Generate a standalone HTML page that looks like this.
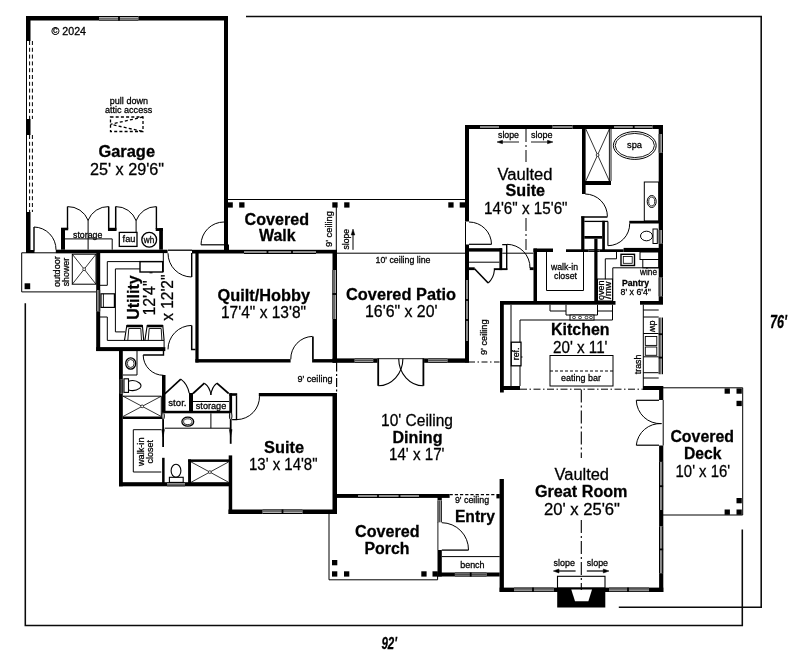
<!DOCTYPE html>
<html><head><meta charset="utf-8"><title>Floor Plan</title>
<style>
html,body{margin:0;padding:0;background:#fff;}
svg{display:block;filter:blur(0.3px);}
text{font-family:"Liberation Sans",sans-serif;fill:#000;stroke:#000;stroke-width:0.28px;}
</style></head><body>
<svg width="800" height="663" viewBox="0 0 800 663">
<rect width="800" height="663" fill="#fff"/>
<path d="M246 16.4 L761.2 16.4 L761.2 607.3 L618.8 607.3" stroke="#0a0a0a" stroke-width="1.55" fill="none"/>
<path d="M25.3 303.2 L25.3 625.4 L742.3 625.4 L742.3 529.5" stroke="#0a0a0a" stroke-width="1.55" fill="none"/>
<rect x="26" y="16" width="202" height="4.5" fill="#000"/>
<rect x="99" y="16.0" width="39.4" height="4.6" fill="#d2d2d2"/>
<path d="M99 16.5 L138.4 16.5 M99 20.1 L138.4 20.1" stroke="#000" stroke-width="1" fill="none"/>
<path d="M99 18.3 L138.4 18.3" stroke="#4a4a4a" stroke-width="1.1" fill="none"/>
<rect x="118.1" y="16.0" width="1.8" height="4.6" fill="#000"/>
<rect x="26" y="16" width="4.5" height="25" fill="#000"/>
<rect x="26" y="119" width="4.5" height="16" fill="#000"/>
<rect x="26" y="212" width="4.5" height="41" fill="#000"/>
<path d="M26.5 41 L26.5 119" stroke="#000" stroke-width="1" fill="none"/>
<path d="M29.6 41 L29.6 119" stroke="#000" stroke-width="1" fill="none" stroke-dasharray="4 2.8"/>
<path d="M32.4 41 L32.4 119" stroke="#000" stroke-width="1" fill="none" stroke-dasharray="4 2.8"/>
<path d="M26.5 135 L26.5 212" stroke="#000" stroke-width="1" fill="none"/>
<path d="M29.6 135 L29.6 212" stroke="#000" stroke-width="1" fill="none" stroke-dasharray="4 2.8"/>
<path d="M32.4 135 L32.4 212" stroke="#000" stroke-width="1" fill="none" stroke-dasharray="4 2.8"/>
<rect x="224" y="16" width="4" height="237" fill="#000"/>
<rect x="26" y="250" width="8.5" height="3" fill="#000"/>
<rect x="55.8" y="249.7" width="111.8" height="3.4" fill="#000"/>
<path d="M168 250.2 L192 250.2" stroke="#000" stroke-width="1.3" fill="none"/>
<path d="M34 227 L34 250.5" stroke="#000" stroke-width="1.4" fill="none"/>
<path d="M34 227 A22.5 22.5 0 0 1 56 249.8" stroke="#000" stroke-width="1" fill="none"/>
<rect x="61" y="228" width="4" height="21.7" fill="#000"/>
<rect x="159.2" y="228.1" width="3.7" height="21.6" fill="#000"/>
<path d="M67.5 206.6 L67.5 229" stroke="#000" stroke-width="1.4" fill="none"/>
<rect x="61" y="227.7" width="7.2" height="2.6" fill="#000"/>
<path d="M156.4 206.6 L156.4 229" stroke="#000" stroke-width="1.4" fill="none"/>
<rect x="155.7" y="228.1" width="7.2" height="2.9" fill="#000"/>
<path d="M108.7 206.6 L108.7 229.8 L115.7 229.8 L115.7 206.6" stroke="#000" stroke-width="1.5" fill="none"/>
<rect x="108" y="227.8" width="8.4" height="3.2" fill="#000"/>
<path d="M67.5 206.6 A21.6 21.6 0 0 1 88.1 220.3" stroke="#000" stroke-width="1" fill="none"/>
<path d="M108.7 206.6 A21.6 21.6 0 0 0 88.1 220.3" stroke="#000" stroke-width="1" fill="none"/>
<path d="M115.7 206.6 A21.4 21.4 0 0 1 136.1 220.7" stroke="#000" stroke-width="1" fill="none"/>
<path d="M156.4 206.6 A21.4 21.4 0 0 0 136.1 220.7" stroke="#000" stroke-width="1" fill="none"/>
<path d="M88.1 220 L88.1 249.7" stroke="#000" stroke-width="1" fill="none"/>
<path d="M136.1 220.5 L136.1 232.3" stroke="#000" stroke-width="1" fill="none"/>
<path d="M65 238.9 L112.2 238.9 L112.2 249.7" stroke="#000" stroke-width="1" fill="none"/>
<text x="73" y="237.5" font-size="9.2" stroke-width="0.42" textLength="29.3" lengthAdjust="spacingAndGlyphs">storage</text>
<rect x="119.3" y="232.4" width="17.7" height="14.0" fill="none" stroke="#000" stroke-width="1.3"/>
<text x="122.6" y="242.3" font-size="9.6" stroke-width="0.42" textLength="12.8" lengthAdjust="spacingAndGlyphs">fau</text>
<ellipse cx="149.2" cy="239.8" rx="7.4" ry="7.4" fill="none" stroke="#000" stroke-width="1.3"/>
<text x="143.8" y="242.5" font-size="9.4" stroke-width="0.42" textLength="10.4" lengthAdjust="spacingAndGlyphs">wh</text>
<rect x="110.5" y="117" width="32.5" height="14.5" fill="none" stroke="#000" stroke-width="1.3" stroke-dasharray="3 2.2"/>
<path d="M143 117 L110.5 124.3 L143 131.5" stroke="#000" stroke-width="1.3" fill="none" stroke-dasharray="3 2.2"/>
<text x="109.8" y="104" font-size="9.3" stroke-width="0.42" textLength="38.2" lengthAdjust="spacingAndGlyphs">pull down</text>
<text x="105" y="112.5" font-size="9.3" stroke-width="0.42" textLength="47.2" lengthAdjust="spacingAndGlyphs">attic access</text>
<text x="51.5" y="35" font-size="10" stroke-width="0.42" textLength="34.5" lengthAdjust="spacingAndGlyphs">© 2024</text>
<text x="98.5" y="156.5" font-size="16" font-weight="bold" textLength="56.5" lengthAdjust="spacingAndGlyphs">Garage</text>
<text x="90" y="175" font-size="16" textLength="74" lengthAdjust="spacingAndGlyphs">25' x 29'6"</text>
<path d="M96 252.8 L21.7 252.8 L21.7 291.9 L96 291.9" stroke="#000" stroke-width="1" fill="none"/>
<rect x="72.3" y="254.2" width="23.7" height="30.0" fill="none" stroke="#000" stroke-width="1"/>
<path d="M72.3 254.2 L96 284.2" stroke="#000" stroke-width="0.8" fill="none"/>
<path d="M96 254.2 L72.3 284.2" stroke="#000" stroke-width="0.8" fill="none"/>
<ellipse cx="84.15" cy="269.2" rx="1.4" ry="1.4" fill="#fff" stroke="#000" stroke-width="0.7"/>
<rect x="24.6" y="283.3" width="5.6" height="5.9" fill="#000"/>
<text x="60.3" y="287" font-size="9.2" stroke-width="0.42" textLength="30.8" lengthAdjust="spacingAndGlyphs" transform="rotate(-90 60.3 287)">outdoor</text>
<text x="69.3" y="286.3" font-size="9.2" stroke-width="0.42" textLength="28.5" lengthAdjust="spacingAndGlyphs" transform="rotate(-90 69.3 286.3)">shower</text>
<rect x="96.2" y="253" width="4.0" height="98" fill="#000"/>
<rect x="96.2" y="290" width="4.0" height="21.3" fill="#d2d2d2"/>
<path d="M96.7 290 L96.7 311.3 M99.69999999999999 290 L99.69999999999999 311.3" stroke="#000" stroke-width="1" fill="none"/>
<path d="M98.19999999999999 290 L98.19999999999999 311.3" stroke="#4a4a4a" stroke-width="1.1" fill="none"/>
<rect x="96.2" y="347.1" width="69.1" height="4.0" fill="#000"/>
<path d="M163.3 253 L163.3 272" stroke="#000" stroke-width="1" fill="none"/>
<path d="M164.1 340.4 L164.1 347.2" stroke="#000" stroke-width="1" fill="none"/>
<path d="M168 253.2 A23.8 23.8 0 0 0 191.5 277" stroke="#000" stroke-width="1" fill="none"/>
<path d="M191.7 253 L191.7 277" stroke="#000" stroke-width="1.4" fill="none"/>
<path d="M168 349.4 A24 24 0 0 1 191.7 325.4" stroke="#000" stroke-width="1" fill="none"/>
<path d="M191.7 325.4 L191.7 349.6 L195.5 349.6" stroke="#000" stroke-width="1.5" fill="none"/>
<path d="M163.3 261.6 L107.3 261.6 L107.3 285.3 L100 285.3" stroke="#000" stroke-width="1" fill="none"/>
<path d="M140 268.9 L115.4 268.9 L115.4 331.9 L125 331.9" stroke="#000" stroke-width="1" fill="none"/>
<rect x="140" y="261.6" width="22.7" height="10.4" fill="none" stroke="#000" stroke-width="1.4"/>
<path d="M149.5 272.8 L152.5 272.8" stroke="#000" stroke-width="1" fill="none"/>
<rect x="101" y="293.8" width="13.4" height="13.6" fill="none" stroke="#000" stroke-width="1.2"/>
<path d="M103.4 293.8 L103.4 307.4" stroke="#000" stroke-width="0.9" fill="none"/>
<path d="M100 317 L107.3 317 L107.3 340.4 L164.1 340.4" stroke="#000" stroke-width="1" fill="none"/>
<path d="M124.5 340.4 L126.8 325.5 L142.39999999999998 325.5 L143.7 340.4" stroke="#000" stroke-width="1.1" fill="none"/>
<path d="M127.8 340.4 L128.8 328.5 L140.79999999999998 328.5 L141.5 340.4" stroke="#000" stroke-width="0.9" fill="none"/>
<path d="M126.8 326 L142.39999999999998 326" stroke="#000" stroke-width="2.6" fill="none"/>
<path d="M144.9 340.4 L147.20000000000002 325.5 L162.79999999999998 325.5 L164.1 340.4" stroke="#000" stroke-width="1.1" fill="none"/>
<path d="M148.20000000000002 340.4 L149.20000000000002 328.5 L161.2 328.5 L161.9 340.4" stroke="#000" stroke-width="0.9" fill="none"/>
<path d="M147.20000000000002 326 L162.79999999999998 326" stroke="#000" stroke-width="2.6" fill="none"/>
<text x="138.8" y="319.8" font-size="16" font-weight="bold" textLength="44.5" lengthAdjust="spacingAndGlyphs" transform="rotate(-90 138.8 319.8)">Utility</text>
<text x="155.3" y="315.6" font-size="16" textLength="35.2" lengthAdjust="spacingAndGlyphs" transform="rotate(-90 155.3 315.6)">12'4"</text>
<text x="173.4" y="320.8" font-size="16" textLength="46.2" lengthAdjust="spacingAndGlyphs" transform="rotate(-90 173.4 320.8)">x 12'2"</text>
<rect x="119" y="351" width="3.8" height="135.3" fill="#000"/>
<rect x="119" y="482.2" width="113" height="4.1" fill="#000"/>
<rect x="167" y="482.2" width="18" height="4.1" fill="#d2d2d2"/>
<path d="M167 482.7 L185 482.7 M167 485.8 L185 485.8" stroke="#000" stroke-width="1" fill="none"/>
<path d="M167 484.25 L185 484.25" stroke="#4a4a4a" stroke-width="1.1" fill="none"/>
<rect x="162" y="375" width="3.5" height="38" fill="#000"/>
<path d="M143.2 355 L163.5 355 L163.5 351" stroke="#000" stroke-width="1.4" fill="none"/>
<path d="M143.2 355 A20.3 20.3 0 0 0 163.5 375.3" stroke="#000" stroke-width="1" fill="none"/>
<path d="M137 350.5 L137 375 L123 375" stroke="#000" stroke-width="1" fill="none"/>
<ellipse cx="130.7" cy="363.5" rx="5" ry="5.6" fill="none" stroke="#000" stroke-width="1.3"/>
<ellipse cx="130.7" cy="363.5" rx="3.4" ry="4" fill="none" stroke="#000" stroke-width="0.8"/>
<rect x="119.80000000000001" y="379.4" width="3.4" height="14.1" fill="#d2d2d2"/>
<path d="M120.30000000000001 379.4 L120.30000000000001 393.5 M122.69999999999999 379.4 L122.69999999999999 393.5" stroke="#000" stroke-width="1" fill="none"/>
<path d="M121.5 379.4 L121.5 393.5" stroke="#4a4a4a" stroke-width="1.1" fill="none"/>
<rect x="124" y="378.8" width="4.5" height="13.6" fill="none" stroke="#000" stroke-width="1.1"/>
<path d="M128.5 381.2 Q135 379.3 139.5 383 Q142.5 385.6 139.5 388.4 Q135 391.8 128.5 390" stroke="#000" stroke-width="1.1" fill="none"/>
<path d="M123 396.2 L161.3 396.2 L161.3 416.5" stroke="#000" stroke-width="1" fill="none"/>
<path d="M123 396.2 L161.3 416.5" stroke="#000" stroke-width="0.8" fill="none"/>
<path d="M161.3 396.2 L123 416.5" stroke="#000" stroke-width="0.8" fill="none"/>
<ellipse cx="142.15" cy="406.35" rx="1.4" ry="1.4" fill="#fff" stroke="#000" stroke-width="0.7"/>
<rect x="122.8" y="416.5" width="40.2" height="2.5" fill="#000"/>
<path d="M161.3 429.7 L133.3 429.7 L133.3 472 L161.3 472" stroke="#000" stroke-width="1" fill="none"/>
<text x="144.2" y="466" font-size="9.2" stroke-width="0.42" textLength="28.5" lengthAdjust="spacingAndGlyphs" transform="rotate(-90 144.2 466)">walk-in</text>
<text x="153.2" y="463.5" font-size="9.2" stroke-width="0.42" textLength="23.5" lengthAdjust="spacingAndGlyphs" transform="rotate(-90 153.2 463.5)">closet</text>
<path d="M163.1 413 L163.1 446.9" stroke="#000" stroke-width="1.8" fill="none"/>
<ellipse cx="163.1" cy="416" rx="1.3" ry="3.6" fill="#ccc" stroke="#000" stroke-width="0.9"/>
<path d="M161.7 429.5 L164.5 429.5 L163.1 437 Z" stroke="#000" stroke-width="0.4" fill="#000"/>
<rect x="162.1" y="457.8" width="2.5" height="25.2" fill="#000"/>
<rect x="189" y="393" width="4" height="18" fill="#000"/>
<path d="M164.8 393.8 L180.8 379.1" stroke="#000" stroke-width="1.6" fill="none"/>
<path d="M180.8 379.1 Q187.5 384 189.2 393.2" stroke="#000" stroke-width="1.1" fill="none"/>
<text x="168.3" y="406" font-size="9.4" stroke-width="0.42" textLength="18.2" lengthAdjust="spacingAndGlyphs">stor.</text>
<rect x="164.6" y="410.8" width="65.8" height="2.5" fill="#000"/>
<path d="M193 393.5 L204.4 383.2" stroke="#000" stroke-width="1.7" fill="none"/>
<path d="M204.4 383.2 Q210 387 210.9 395" stroke="#000" stroke-width="1.1" fill="none"/>
<path d="M228.7 393.5 L216.8 383.2" stroke="#000" stroke-width="1.7" fill="none"/>
<path d="M216.8 383.2 Q211.8 387 210.9 395" stroke="#000" stroke-width="1.1" fill="none"/>
<path d="M193 401.5 L229 401.5" stroke="#000" stroke-width="1" fill="none"/>
<text x="195.8" y="408.6" font-size="9.4" stroke-width="0.42" textLength="30.5" lengthAdjust="spacingAndGlyphs">storage</text>
<rect x="229.3" y="393.2" width="7.9" height="2.6" fill="#000"/>
<rect x="229.3" y="393.2" width="2.8" height="20.3" fill="#000"/>
<path d="M236.5 395.8 L236.5 419.6 L232.1 419.6" stroke="#000" stroke-width="1.4" fill="none"/>
<path d="M230.7 413 L230.7 443.8" stroke="#000" stroke-width="1.8" fill="none"/>
<ellipse cx="230.7" cy="416" rx="1.3" ry="3.6" fill="#ccc" stroke="#000" stroke-width="0.9"/>
<path d="M229.3 429.5 L232.1 429.5 L230.7 437 Z" stroke="#000" stroke-width="0.4" fill="#000"/>
<path d="M164.6 428.2 L230.4 428.2" stroke="#000" stroke-width="1" fill="none"/>
<path d="M210.9 413.3 L210.9 428.2" stroke="#000" stroke-width="1" fill="none"/>
<ellipse cx="187.8" cy="421.7" rx="5.9" ry="4.5" fill="none" stroke="#000" stroke-width="1.3"/>
<ellipse cx="187.8" cy="421.7" rx="4.2" ry="2.9" fill="none" stroke="#000" stroke-width="0.8"/>
<ellipse cx="176" cy="470.8" rx="4.9" ry="6.5" fill="none" stroke="#000" stroke-width="1.1"/>
<rect x="169.4" y="477.3" width="13.8" height="5.1" fill="none" stroke="#000" stroke-width="1.1"/>
<rect x="188.1" y="459.4" width="40.9" height="2.5" fill="#000"/>
<rect x="188.1" y="459.4" width="2.9" height="23.6" fill="#000"/>
<path d="M191 461.9 L228.7 482.3" stroke="#000" stroke-width="0.8" fill="none"/>
<path d="M228.7 461.9 L191 482.3" stroke="#000" stroke-width="0.8" fill="none"/>
<ellipse cx="209.85" cy="472.1" rx="1.4" ry="1.4" fill="#fff" stroke="#000" stroke-width="0.7"/>
<rect x="228.7" y="455.4" width="3.5" height="58.6" fill="#000"/>
<rect x="228.5" y="509.5" width="108.5" height="4.5" fill="#000"/>
<rect x="262.5" y="509.5" width="40.0" height="4.5" fill="#d2d2d2"/>
<path d="M262.5 510.0 L302.5 510.0 M262.5 513.5 L302.5 513.5" stroke="#000" stroke-width="1" fill="none"/>
<path d="M262.5 511.75 L302.5 511.75" stroke="#4a4a4a" stroke-width="1.1" fill="none"/>
<rect x="281.6" y="509.5" width="1.8" height="4.5" fill="#000"/>
<rect x="332.5" y="393" width="4.5" height="121" fill="#000"/>
<rect x="258.8" y="393" width="78.2" height="3.3" fill="#000"/>
<path d="M237 419.6 A23 23 0 0 0 259.5 396.2" stroke="#000" stroke-width="1" fill="none"/>
<text x="264" y="452.5" font-size="16" font-weight="bold" textLength="40" lengthAdjust="spacingAndGlyphs">Suite</text>
<text x="249" y="469.5" font-size="16" textLength="68.5" lengthAdjust="spacingAndGlyphs">13' x 14'8"</text>
<rect x="192" y="249.8" width="145" height="3.7" fill="#000"/>
<rect x="244" y="250.0" width="72" height="4.0" fill="#d2d2d2"/>
<path d="M244 250.5 L316 250.5 M244 253.5 L316 253.5" stroke="#000" stroke-width="1" fill="none"/>
<path d="M244 252.0 L316 252.0" stroke="#4a4a4a" stroke-width="1.1" fill="none"/>
<rect x="266.6" y="250.0" width="1.8" height="4.0" fill="#000"/>
<rect x="291.1" y="250.0" width="1.8" height="4.0" fill="#000"/>
<rect x="195.4" y="250" width="3.2" height="112.5" fill="#000"/>
<rect x="332.5" y="250" width="4.5" height="112.5" fill="#000"/>
<rect x="332.5" y="270" width="4.5" height="49" fill="#d2d2d2"/>
<path d="M333.0 270 L333.0 319 M336.5 270 L336.5 319" stroke="#000" stroke-width="1" fill="none"/>
<path d="M334.75 270 L334.75 319" stroke="#4a4a4a" stroke-width="1.1" fill="none"/>
<rect x="332.5" y="293.1" width="4.5" height="1.8" fill="#000"/>
<rect x="195.4" y="359.1" width="95.2" height="3.4" fill="#000"/>
<rect x="312.1" y="359.1" width="24.9" height="3.4" fill="#000"/>
<path d="M312.9 336.4 L312.9 359.3" stroke="#000" stroke-width="1.7" fill="none"/>
<path d="M312.5 336.4 A22.3 22.3 0 0 0 290.8 359.3" stroke="#000" stroke-width="1" fill="none"/>
<text x="217.5" y="301" font-size="16" font-weight="bold" textLength="92.5" lengthAdjust="spacingAndGlyphs">Quilt/Hobby</text>
<text x="221" y="318" font-size="16" textLength="85" lengthAdjust="spacingAndGlyphs">17'4" x 13'8"</text>
<text x="297.5" y="382.3" font-size="9" stroke-width="0.42" textLength="35" lengthAdjust="spacingAndGlyphs">9' ceiling</text>
<path d="M336.6 362.5 L336.6 393" stroke="#000" stroke-width="1.2" fill="none" stroke-dasharray="9 2.5 2 2"/>
<path d="M228 199.5 L465 199.5" stroke="#000" stroke-width="1" fill="none"/>
<rect x="227.5" y="202.3" width="5.3" height="5.3" fill="#000"/>
<rect x="239.2" y="202.3" width="5.3" height="5.3" fill="#000"/>
<rect x="332.3" y="202.3" width="5.3" height="5.3" fill="#000"/>
<rect x="344.2" y="202.3" width="5.3" height="5.3" fill="#000"/>
<rect x="448.3" y="202.3" width="5.3" height="5.3" fill="#000"/>
<rect x="459.7" y="202.3" width="5.3" height="5.3" fill="#000"/>
<path d="M336.3 207 L336.3 250" stroke="#000" stroke-width="1" fill="none"/>
<rect x="224" y="244.5" width="5" height="8.5" fill="#000"/>
<path d="M201 244.8 L224 244.8" stroke="#000" stroke-width="1.2" fill="none"/>
<path d="M201 244.8 A23 23 0 0 1 224 222" stroke="#000" stroke-width="1" fill="none"/>
<text x="244.5" y="224.5" font-size="16" font-weight="bold" textLength="64.5" lengthAdjust="spacingAndGlyphs">Covered</text>
<text x="259" y="241" font-size="16" font-weight="bold" textLength="36.5" lengthAdjust="spacingAndGlyphs">Walk</text>
<text x="331.5" y="247" font-size="9" stroke-width="0.42" textLength="36" lengthAdjust="spacingAndGlyphs" transform="rotate(-90 331.5 247)">9' ceiling</text>
<text x="348.5" y="249.5" font-size="9" stroke-width="0.42" textLength="20.5" lengthAdjust="spacingAndGlyphs" transform="rotate(-90 348.5 249.5)">slope</text>
<path d="M353 249.8 L353 233" stroke="#000" stroke-width="1" fill="none"/>
<path d="M353 229 L351.2 235 L354.8 235 Z" stroke="#000" stroke-width="0.5" fill="#000"/>
<path d="M337 253.2 L465 253.2" stroke="#000" stroke-width="1" fill="none"/>
<text x="375.5" y="263" font-size="9" stroke-width="0.42" textLength="55" lengthAdjust="spacingAndGlyphs">10' ceiling line</text>
<text x="346" y="300" font-size="16" font-weight="bold" textLength="110" lengthAdjust="spacingAndGlyphs">Covered Patio</text>
<text x="365" y="317" font-size="16" textLength="72.5" lengthAdjust="spacingAndGlyphs">16'6" x 20'</text>
<rect x="332.5" y="358.4" width="136.5" height="4.4" fill="#000"/>
<rect x="354.6" y="358.4" width="18.6" height="4.4" fill="#d2d2d2"/>
<path d="M354.6 358.9 L373.2 358.9 M354.6 362.3 L373.2 362.3" stroke="#000" stroke-width="1" fill="none"/>
<path d="M354.6 360.6 L373.2 360.6" stroke="#4a4a4a" stroke-width="1.1" fill="none"/>
<rect x="428.2" y="358.4" width="19.3" height="4.4" fill="#d2d2d2"/>
<path d="M428.2 358.9 L447.5 358.9 M428.2 362.3 L447.5 362.3" stroke="#000" stroke-width="1" fill="none"/>
<path d="M428.2 360.6 L447.5 360.6" stroke="#4a4a4a" stroke-width="1.1" fill="none"/>
<rect x="377.4" y="358" width="46.7" height="5.2" fill="#fff"/>
<path d="M377.3 358.7 L424.1 358.7" stroke="#000" stroke-width="0.9" fill="none"/>
<path d="M378.2 358.5 L378.2 385.8" stroke="#000" stroke-width="1.8" fill="none"/>
<path d="M423.4 358.5 L423.4 385.8" stroke="#000" stroke-width="1.8" fill="none"/>
<path d="M378.2 385.8 A25 27.3 0 0 0 402.9 358.7" stroke="#000" stroke-width="1.1" fill="none"/>
<path d="M423.4 385.8 A25 27.3 0 0 1 398.7 358.7" stroke="#000" stroke-width="1.1" fill="none"/>
<rect x="465" y="244.5" width="4" height="118.0" fill="#000"/>
<rect x="465.0" y="280" width="4.0" height="61" fill="#d2d2d2"/>
<path d="M465.5 280 L465.5 341 M468.5 280 L468.5 341" stroke="#000" stroke-width="1" fill="none"/>
<path d="M467.0 280 L467.0 341" stroke="#4a4a4a" stroke-width="1.1" fill="none"/>
<rect x="465.0" y="299.1" width="4.0" height="1.8" fill="#000"/>
<rect x="465.0" y="319.1" width="4.0" height="1.8" fill="#000"/>
<path d="M469 362 L499.5 362" stroke="#000" stroke-width="1" fill="none" stroke-dasharray="6 2.5 1.5 2.5"/>
<text x="487" y="355" font-size="9" stroke-width="0.42" textLength="35.5" lengthAdjust="spacingAndGlyphs" transform="rotate(-90 487 355)">9' ceiling</text>
<text x="381" y="426" font-size="16" textLength="72" lengthAdjust="spacingAndGlyphs">10' Ceiling</text>
<text x="392.5" y="443" font-size="16" font-weight="bold" textLength="50" lengthAdjust="spacingAndGlyphs">Dining</text>
<text x="389" y="460" font-size="16" textLength="55.5" lengthAdjust="spacingAndGlyphs">14' x 17'</text>
<rect x="337" y="494" width="112.6" height="3.9" fill="#000"/>
<rect x="358" y="494.0" width="61" height="4.0" fill="#d2d2d2"/>
<path d="M358 494.5 L419 494.5 M358 497.5 L419 497.5" stroke="#000" stroke-width="1" fill="none"/>
<path d="M358 496.0 L419 496.0" stroke="#4a4a4a" stroke-width="1.1" fill="none"/>
<rect x="377.1" y="494.0" width="1.8" height="4.0" fill="#000"/>
<rect x="398.6" y="494.0" width="1.8" height="4.0" fill="#000"/>
<path d="M329 514 L329 579.8 L437.6 579.8 L437.6 576" stroke="#000" stroke-width="1" fill="none"/>
<rect x="332" y="560" width="5.3" height="5.3" fill="#000"/>
<rect x="332" y="571.3" width="5.3" height="5.3" fill="#000"/>
<rect x="344" y="571.3" width="5.3" height="5.3" fill="#000"/>
<rect x="421.3" y="571.3" width="5.3" height="5.3" fill="#000"/>
<rect x="432.5" y="571.3" width="5.3" height="5.3" fill="#000"/>
<text x="355" y="537" font-size="16" font-weight="bold" textLength="64.5" lengthAdjust="spacingAndGlyphs">Covered</text>
<text x="364.5" y="554" font-size="16" font-weight="bold" textLength="45" lengthAdjust="spacingAndGlyphs">Porch</text>
<rect x="437.5" y="494" width="4.3" height="6.5" fill="#000"/>
<rect x="437.5" y="500.5" width="4.3" height="21.8" fill="#d2d2d2"/>
<path d="M438.0 500.5 L438.0 522.3 M441.3 500.5 L441.3 522.3" stroke="#000" stroke-width="1" fill="none"/>
<path d="M439.65 500.5 L439.65 522.3" stroke="#4a4a4a" stroke-width="1.1" fill="none"/>
<path d="M437.9 522 L437.9 550" stroke="#000" stroke-width="0.9" fill="none"/>
<rect x="437.5" y="550" width="4.3" height="26.5" fill="#000"/>
<path d="M441.8 550.1 L468.5 550.1" stroke="#000" stroke-width="1.3" fill="none"/>
<path d="M468.5 550.1 A27 27 0 0 0 441.8 522.7" stroke="#000" stroke-width="1" fill="none"/>
<path d="M449.6 494.6 L496.4 494.6" stroke="#000" stroke-width="1.1" fill="none" stroke-dasharray="3.2 2"/>
<rect x="496.4" y="494" width="3.4" height="4.4" fill="#000"/>
<text x="454.9" y="503.1" font-size="9" stroke-width="0.42" textLength="34.2" lengthAdjust="spacingAndGlyphs">9' ceiling</text>
<text x="454.9" y="522.2" font-size="16" font-weight="bold" textLength="40" lengthAdjust="spacingAndGlyphs">Entry</text>
<path d="M441.8 556.6 L499.7 556.6" stroke="#000" stroke-width="1" fill="none"/>
<text x="460.2" y="567.7" font-size="9" stroke-width="0.42" textLength="24.4" lengthAdjust="spacingAndGlyphs">bench</text>
<rect x="437.5" y="572.5" width="62.2" height="4.0" fill="#000"/>
<rect x="454.9" y="572.5" width="31.7" height="4.0" fill="#d2d2d2"/>
<path d="M454.9 573.0 L486.6 573.0 M454.9 576.0 L486.6 576.0" stroke="#000" stroke-width="1" fill="none"/>
<path d="M454.9 574.5 L486.6 574.5" stroke="#4a4a4a" stroke-width="1.1" fill="none"/>
<rect x="469.8" y="572.5" width="1.8" height="4.0" fill="#000"/>
<rect x="499.6" y="479" width="4.3" height="112.8" fill="#000"/>
<rect x="499.6" y="587.6" width="163.7" height="4.4" fill="#000"/>
<rect x="514" y="587.6" width="39.8" height="4.2" fill="#d2d2d2"/>
<path d="M514 588.1 L553.8 588.1 M514 591.3000000000001 L553.8 591.3000000000001" stroke="#000" stroke-width="1" fill="none"/>
<path d="M514 589.7 L553.8 589.7" stroke="#4a4a4a" stroke-width="1.1" fill="none"/>
<rect x="532.1" y="587.6" width="1.8" height="4.2" fill="#000"/>
<rect x="609" y="587.6" width="40" height="4.2" fill="#d2d2d2"/>
<path d="M609 588.1 L649 588.1 M609 591.3000000000001 L649 591.3000000000001" stroke="#000" stroke-width="1" fill="none"/>
<path d="M609 589.7 L649 589.7" stroke="#4a4a4a" stroke-width="1.1" fill="none"/>
<rect x="627.1" y="587.6" width="1.8" height="4.2" fill="#000"/>
<rect x="659.1" y="386" width="4.2" height="206" fill="#000"/>
<rect x="659.0" y="461.9" width="4.1" height="48.1" fill="#d2d2d2"/>
<path d="M659.5 461.9 L659.5 510 M662.6 461.9 L662.6 510" stroke="#000" stroke-width="1" fill="none"/>
<path d="M661.05 461.9 L661.05 510" stroke="#4a4a4a" stroke-width="1.1" fill="none"/>
<rect x="659.0" y="485.3" width="4.1" height="1.8" fill="#000"/>
<rect x="659.0" y="526.3" width="4.1" height="46.9" fill="#d2d2d2"/>
<path d="M659.5 526.3 L659.5 573.2 M662.6 526.3 L662.6 573.2" stroke="#000" stroke-width="1" fill="none"/>
<path d="M661.05 526.3 L661.05 573.2" stroke="#4a4a4a" stroke-width="1.1" fill="none"/>
<rect x="659.0" y="548.5" width="4.1" height="1.8" fill="#000"/>
<rect x="657.7" y="400" width="6.3" height="45.5" fill="#fff"/>
<path d="M663.2 400 L663.2 445.5" stroke="#000" stroke-width="1" fill="none"/>
<path d="M636.3 400.3 L659 400.3" stroke="#000" stroke-width="1.2" fill="none"/>
<path d="M636.3 445.2 L659 445.2" stroke="#000" stroke-width="1.2" fill="none"/>
<path d="M636.3 400.3 A24 24 0 0 0 661.5 423.6" stroke="#000" stroke-width="1" fill="none"/>
<path d="M636.3 445.2 A24 24 0 0 1 661.5 423.6" stroke="#000" stroke-width="1" fill="none"/>
<rect x="557.5" y="576.3" width="47.5" height="11.7" fill="none" stroke="#000" stroke-width="1.1"/>
<path d="M557.2 588 L605.3 588 L605.3 607.6 L557.2 607.6 Z" stroke="#000" stroke-width="0" fill="#000"/>
<path d="M571.3 589.6 L592 589.6 L588.4 601.2 L575 601.2 Z" stroke="#000" stroke-width="0" fill="#fff"/>
<path d="M581.3 389.5 L581.3 458" stroke="#000" stroke-width="1.1" fill="none" stroke-dasharray="13 3 2 3"/>
<path d="M581.3 520 L581.3 590" stroke="#000" stroke-width="1.1" fill="none" stroke-dasharray="13 3 2 3"/>
<text x="554.5" y="480" font-size="16" textLength="54.5" lengthAdjust="spacingAndGlyphs">Vaulted</text>
<text x="535" y="497" font-size="16" font-weight="bold" textLength="92.5" lengthAdjust="spacingAndGlyphs">Great Room</text>
<text x="544" y="514.5" font-size="16" textLength="76" lengthAdjust="spacingAndGlyphs">20' x 25'6"</text>
<text x="553.5" y="566.2" font-size="9.2" stroke-width="0.42" textLength="21.4" lengthAdjust="spacingAndGlyphs">slope</text>
<text x="586.8" y="566.2" font-size="9.2" stroke-width="0.42" textLength="21.2" lengthAdjust="spacingAndGlyphs">slope</text>
<path d="M557 571 L575.6 571" stroke="#000" stroke-width="1.2" fill="none"/>
<path d="M553.3 571 L559 569 L559 573 Z" stroke="#000" stroke-width="0.5" fill="#000"/>
<path d="M586.8 571 L605 571" stroke="#000" stroke-width="1.2" fill="none"/>
<path d="M609 571 L603.3 569 L603.3 573 Z" stroke="#000" stroke-width="0.5" fill="#000"/>
<path d="M663 387.8 L742.7 387.8 L742.7 515 L663 515" stroke="#000" stroke-width="1" fill="none"/>
<rect x="724.6" y="388.4" width="5.3" height="5.3" fill="#000"/>
<rect x="736.5" y="388.4" width="5.3" height="5.3" fill="#000"/>
<rect x="736.5" y="400.8" width="5.3" height="5.3" fill="#000"/>
<rect x="736.5" y="498" width="5.3" height="5.3" fill="#000"/>
<rect x="724.6" y="509.5" width="5.3" height="5.3" fill="#000"/>
<rect x="736.5" y="509.5" width="5.3" height="5.3" fill="#000"/>
<text x="670.4" y="442" font-size="16" font-weight="bold" textLength="63.6" lengthAdjust="spacingAndGlyphs">Covered</text>
<text x="684" y="459" font-size="16" font-weight="bold" textLength="37.5" lengthAdjust="spacingAndGlyphs">Deck</text>
<text x="675.6" y="477" font-size="16" textLength="54.5" lengthAdjust="spacingAndGlyphs">10' x 16'</text>
<rect x="500" y="301" width="3.8" height="91.5" fill="#000"/>
<rect x="500" y="301" width="115.5" height="3.7" fill="#000"/>
<rect x="640" y="301" width="23" height="3.7" fill="#000"/>
<rect x="500" y="386" width="20" height="4" fill="#000"/>
<rect x="642.8" y="386" width="20.2" height="4" fill="#000"/>
<path d="M520 389.2 L642.8 389.2" stroke="#000" stroke-width="1" fill="none" stroke-dasharray="7 2.5 1.5 2.5"/>
<path d="M511 304.7 L511 386" stroke="#000" stroke-width="1" fill="none"/>
<path d="M612.5 320 L520 320 L520 386" stroke="#000" stroke-width="1" fill="none"/>
<rect x="511.3" y="342.2" width="9.7" height="23.6" fill="#fff" stroke="#000" stroke-width="1.3"/>
<path d="M521 357 L522.5 357" stroke="#000" stroke-width="1" fill="none"/>
<text x="519.2" y="360.3" font-size="8.6" stroke-width="0.42" textLength="12.8" lengthAdjust="spacingAndGlyphs" transform="rotate(-90 519.2 360.3)">ref.</text>
<path d="M550 304.7 L550 311 L566 311" stroke="#000" stroke-width="1" fill="none"/>
<path d="M597.5 311 L612.5 311" stroke="#000" stroke-width="1" fill="none"/>
<path d="M566 304.7 L566 315 L597.5 315 L597.5 304.7" stroke="#000" stroke-width="1" fill="none"/>
<path d="M612.5 304.7 L612.5 320" stroke="#000" stroke-width="1" fill="none"/>
<rect x="570" y="315" width="24" height="5" fill="#fff" stroke="#000" stroke-width="1"/>
<ellipse cx="574" cy="317.5" rx="1.5" ry="1.3" fill="none" stroke="#000" stroke-width="0.7"/>
<ellipse cx="580" cy="317.5" rx="1.5" ry="1.3" fill="none" stroke="#000" stroke-width="0.7"/>
<ellipse cx="586.5" cy="317.5" rx="1.5" ry="1.3" fill="none" stroke="#000" stroke-width="0.7"/>
<ellipse cx="591" cy="317.5" rx="1.5" ry="1.3" fill="none" stroke="#000" stroke-width="0.7"/>
<text x="551" y="335" font-size="16" font-weight="bold" textLength="58.5" lengthAdjust="spacingAndGlyphs">Kitchen</text>
<text x="553" y="352.5" font-size="16" textLength="54.5" lengthAdjust="spacingAndGlyphs">20' x 11'</text>
<rect x="550" y="355.5" width="63" height="30.5" fill="none" stroke="#000" stroke-width="1"/>
<path d="M550 371 L613 371" stroke="#000" stroke-width="1" fill="none" stroke-dasharray="3 2"/>
<text x="561" y="381" font-size="9" stroke-width="0.42" textLength="40" lengthAdjust="spacingAndGlyphs">eating bar</text>
<path d="M643.3 304.7 L643.3 386" stroke="#000" stroke-width="1" fill="none"/>
<path d="M643.3 310 L658.7 310" stroke="#000" stroke-width="1" fill="none"/>
<path d="M643.3 317 L658.7 317" stroke="#000" stroke-width="1" fill="none"/>
<path d="M643.3 333.5 L658.7 333.5" stroke="#000" stroke-width="1" fill="none"/>
<path d="M643.3 356.8 L658.7 356.8" stroke="#000" stroke-width="1" fill="none"/>
<path d="M643.3 372.7 L658.7 372.7" stroke="#000" stroke-width="1" fill="none"/>
<path d="M643.3 378 L658.7 378" stroke="#000" stroke-width="1" fill="none"/>
<text x="649.6" y="320.6" font-size="9" stroke-width="0.42" textLength="11.4" lengthAdjust="spacingAndGlyphs" transform="rotate(90 649.6 320.6)">dw</text>
<rect x="645.3" y="336.5" width="11.5" height="8.9" fill="none" stroke="#000" stroke-width="0.9"/>
<rect x="645.3" y="347" width="11.5" height="8.3" fill="none" stroke="#000" stroke-width="0.9"/>
<text x="641" y="374.2" font-size="9" stroke-width="0.42" textLength="19.6" lengthAdjust="spacingAndGlyphs" transform="rotate(-90 641 374.2)">trash</text>
<rect x="658.6999999999999" y="317.6" width="4.3" height="56.6" fill="#d2d2d2"/>
<path d="M659.1999999999999 317.6 L659.1999999999999 374.2 M662.5 317.6 L662.5 374.2" stroke="#000" stroke-width="1" fill="none"/>
<path d="M660.8499999999999 317.6 L660.8499999999999 374.2" stroke="#4a4a4a" stroke-width="1.1" fill="none"/>
<rect x="658.6999999999999" y="333.3" width="4.3" height="1.8" fill="#000"/>
<rect x="658.6999999999999" y="356.70000000000005" width="4.3" height="1.8" fill="#000"/>
<rect x="465" y="125" width="198" height="4" fill="#000"/>
<rect x="480" y="125.0" width="19" height="4.0" fill="#d2d2d2"/>
<path d="M480 125.5 L499 125.5 M480 128.5 L499 128.5" stroke="#000" stroke-width="1" fill="none"/>
<path d="M480 127.0 L499 127.0" stroke="#4a4a4a" stroke-width="1.1" fill="none"/>
<rect x="552.5" y="125.0" width="20.0" height="4.0" fill="#d2d2d2"/>
<path d="M552.5 125.5 L572.5 125.5 M552.5 128.5 L572.5 128.5" stroke="#000" stroke-width="1" fill="none"/>
<path d="M552.5 127.0 L572.5 127.0" stroke="#4a4a4a" stroke-width="1.1" fill="none"/>
<rect x="614" y="125.0" width="38.5" height="4.0" fill="#d2d2d2"/>
<path d="M614 125.5 L652.5 125.5 M614 128.5 L652.5 128.5" stroke="#000" stroke-width="1" fill="none"/>
<path d="M614 127.0 L652.5 127.0" stroke="#4a4a4a" stroke-width="1.1" fill="none"/>
<rect x="632.8000000000001" y="125.0" width="1.8" height="4.0" fill="#000"/>
<rect x="465" y="125" width="4" height="96.5" fill="#000"/>
<rect x="658.7" y="125" width="4.3" height="179" fill="#000"/>
<rect x="658.6999999999999" y="134" width="4.3" height="18.7" fill="#d2d2d2"/>
<path d="M659.1999999999999 134 L659.1999999999999 152.7 M662.5 134 L662.5 152.7" stroke="#000" stroke-width="1" fill="none"/>
<path d="M660.8499999999999 134 L660.8499999999999 152.7" stroke="#4a4a4a" stroke-width="1.1" fill="none"/>
<rect x="658.6999999999999" y="230" width="4.3" height="13.5" fill="#d2d2d2"/>
<path d="M659.1999999999999 230 L659.1999999999999 243.5 M662.5 230 L662.5 243.5" stroke="#000" stroke-width="1" fill="none"/>
<path d="M660.8499999999999 230 L660.8499999999999 243.5" stroke="#4a4a4a" stroke-width="1.1" fill="none"/>
<rect x="658.6999999999999" y="277.5" width="4.3" height="18.8" fill="#d2d2d2"/>
<path d="M659.1999999999999 277.5 L659.1999999999999 296.3 M662.5 277.5 L662.5 296.3" stroke="#000" stroke-width="1" fill="none"/>
<path d="M660.8499999999999 277.5 L660.8499999999999 296.3" stroke="#4a4a4a" stroke-width="1.1" fill="none"/>
<path d="M526 129 L526 162" stroke="#000" stroke-width="1" fill="none" stroke-dasharray="13 3 2 3"/>
<path d="M526 218 L526 250" stroke="#000" stroke-width="1" fill="none" stroke-dasharray="13 3 2 3"/>
<text x="498" y="137.5" font-size="9" stroke-width="0.42" textLength="21" lengthAdjust="spacingAndGlyphs">slope</text>
<text x="531" y="137.5" font-size="9" stroke-width="0.42" textLength="21.5" lengthAdjust="spacingAndGlyphs">slope</text>
<path d="M501 142 L519 142" stroke="#000" stroke-width="0.9" fill="none"/>
<path d="M497 142 L502.5 140.3 L502.5 143.7 Z" stroke="#000" stroke-width="0.5" fill="#000"/>
<path d="M531 142 L549 142" stroke="#000" stroke-width="0.9" fill="none"/>
<path d="M553 142 L547.5 140.3 L547.5 143.7 Z" stroke="#000" stroke-width="0.5" fill="#000"/>
<text x="497.5" y="179.5" font-size="16" textLength="55" lengthAdjust="spacingAndGlyphs">Vaulted</text>
<text x="505.5" y="196" font-size="16" font-weight="bold" textLength="39.5" lengthAdjust="spacingAndGlyphs">Suite</text>
<text x="484" y="214" font-size="16" textLength="83.5" lengthAdjust="spacingAndGlyphs">14'6" x 15'6"</text>
<path d="M469 244.3 L491.5 244.3" stroke="#000" stroke-width="1.2" fill="none"/>
<path d="M469 222 A22.5 22.5 0 0 1 491.5 244.3" stroke="#000" stroke-width="1" fill="none"/>
<rect x="469" y="248.2" width="33.2" height="3.4" fill="#000"/>
<rect x="499.4" y="248.2" width="2.8" height="21.9" fill="#000"/>
<path d="M469 262.2 L499.4 262.2" stroke="#000" stroke-width="1" fill="none"/>
<rect x="469" y="267.3" width="5.7" height="2.8" fill="#000"/>
<rect x="493.8" y="268.2" width="13.5" height="1.9" fill="#000"/>
<path d="M502.2 244.6 L506.7 244.6 L506.7 270" stroke="#000" stroke-width="1.4" fill="none"/>
<path d="M474.5 268.8 L488.2 283" stroke="#000" stroke-width="1.6" fill="none"/>
<path d="M488.2 283 Q493.8 278 494.4 270" stroke="#000" stroke-width="1.1" fill="none"/>
<path d="M465.5 221.5 L465.5 245" stroke="#000" stroke-width="1" fill="none"/>
<path d="M507 244.3 A23.3 23.3 0 0 1 530 268" stroke="#000" stroke-width="1" fill="none"/>
<rect x="529.8" y="267.3" width="3.9" height="2.8" fill="#000"/>
<path d="M502.2 253.2 L533.4 253.2" stroke="#000" stroke-width="1" fill="none"/>
<rect x="533.5" y="248.5" width="3.5" height="53.5" fill="#000"/>
<rect x="533.5" y="248.5" width="19.5" height="3.5" fill="#000"/>
<rect x="566" y="249.3" width="57.6" height="2.7" fill="#000"/>
<rect x="623.6" y="247.9" width="35.4" height="4.1" fill="#000"/>
<rect x="588.6" y="249.3" width="10.9" height="2.7" fill="#d2d2d2"/>
<path d="M588.6 249.8 L599.5 249.8 M588.6 251.5 L599.5 251.5" stroke="#000" stroke-width="1" fill="none"/>
<path d="M588.6 250.65 L599.5 250.65" stroke="#4a4a4a" stroke-width="1.1" fill="none"/>
<rect x="594.3" y="238.7" width="3.2" height="63.3" fill="#000"/>
<path d="M546.5 252 L546.5 290.5 L583.5 290.5 L583.5 252" stroke="#000" stroke-width="1" fill="none"/>
<text x="551" y="270" font-size="9" stroke-width="0.42" textLength="27" lengthAdjust="spacingAndGlyphs">walk-in</text>
<text x="554" y="279" font-size="9" stroke-width="0.42" textLength="23" lengthAdjust="spacingAndGlyphs">closet</text>
<rect x="582" y="129" width="3.6" height="65" fill="#000"/>
<rect x="582" y="181" width="29" height="4" fill="#000"/>
<path d="M609.4 129 L609.4 181" stroke="#000" stroke-width="0.9" fill="none"/>
<path d="M611 129 L611 181" stroke="#000" stroke-width="0.9" fill="none"/>
<path d="M585.8 129 L609.4 181" stroke="#000" stroke-width="0.8" fill="none"/>
<path d="M609.4 129 L585.8 181" stroke="#000" stroke-width="0.8" fill="none"/>
<ellipse cx="597.5999999999999" cy="155.0" rx="1.4" ry="1.4" fill="#fff" stroke="#000" stroke-width="0.7"/>
<ellipse cx="634.8" cy="145.5" rx="21.4" ry="13.9" fill="none" stroke="#000" stroke-width="1"/>
<ellipse cx="634.8" cy="145.5" rx="19.6" ry="12.1" fill="none" stroke="#000" stroke-width="0.9"/>
<text x="627" y="147.8" font-size="9" stroke-width="0.42" textLength="15" lengthAdjust="spacingAndGlyphs">spa</text>
<path d="M585.2 194 A22.4 22.4 0 0 1 607.4 216.6" stroke="#000" stroke-width="1" fill="none"/>
<path d="M581.2 217 L607.4 217" stroke="#000" stroke-width="1.5" fill="none"/>
<rect x="581.2" y="216.4" width="3.2" height="34.1" fill="#000"/>
<path d="M584.3 221.4 L607.9 221.4" stroke="#000" stroke-width="1.3" fill="none"/>
<rect x="602.2" y="220.8" width="2.7" height="29.2" fill="#000"/>
<path d="M607.9 221.4 L607.9 245.7" stroke="#000" stroke-width="1.1" fill="none"/>
<rect x="584.3" y="236" width="17.9" height="2.7" fill="#000"/>
<path d="M629.7 223.5 A21.9 21.9 0 0 1 608 245.7" stroke="#000" stroke-width="1" fill="none"/>
<rect x="629.3" y="220.8" width="29.7" height="2.7" fill="#000"/>
<rect x="644.3" y="182" width="14.4" height="39" fill="none" stroke="#000" stroke-width="1"/>
<ellipse cx="651.7" cy="201.5" rx="4.5" ry="6" fill="none" stroke="#000" stroke-width="1"/>
<ellipse cx="651.7" cy="201.5" rx="3" ry="4.4" fill="none" stroke="#000" stroke-width="0.8"/>
<ellipse cx="646.5" cy="236" rx="6" ry="4.8" fill="none" stroke="#000" stroke-width="1"/>
<rect x="653" y="229" width="4.3" height="14.5" fill="none" stroke="#000" stroke-width="1"/>
<path d="M616.5 252 L616.5 258.8 L605.3 258.8 L605.3 279.3" stroke="#000" stroke-width="1" fill="none"/>
<path d="M658.7 267.8 L612.8 267.8 L612.8 300.5" stroke="#000" stroke-width="1" fill="none"/>
<rect x="621" y="254.3" width="13.5" height="11.2" fill="none" stroke="#000" stroke-width="1.4"/>
<rect x="623.3" y="256.5" width="8.9" height="6.8" fill="none" stroke="#000" stroke-width="0.8"/>
<rect x="640" y="252" width="18.7" height="7.5" fill="none" stroke="#000" stroke-width="1"/>
<rect x="642.8" y="259.5" width="15.9" height="8.3" fill="none" stroke="#000" stroke-width="1"/>
<text x="640" y="275" font-size="9" stroke-width="0.42" textLength="17" lengthAdjust="spacingAndGlyphs">wine</text>
<rect x="597.5" y="279" width="15.0" height="22" fill="none" stroke="#000" stroke-width="1"/>
<text x="603.6" y="300" font-size="9" stroke-width="0.42" textLength="19.5" lengthAdjust="spacingAndGlyphs" transform="rotate(-90 603.6 300)">oven</text>
<text x="611.2" y="299" font-size="9" stroke-width="0.42" textLength="17.5" lengthAdjust="spacingAndGlyphs" transform="rotate(-90 611.2 299)">/mw</text>
<text x="622" y="285.5" font-size="8.6" stroke-width="0.42" font-weight="bold" textLength="27" lengthAdjust="spacingAndGlyphs">Pantry</text>
<text x="620.5" y="294.5" font-size="8.6" stroke-width="0.42" textLength="30.5" lengthAdjust="spacingAndGlyphs">8' x 6'4"</text>
<text x="770" y="327.5" font-size="18.6" font-weight="bold" textLength="17" lengthAdjust="spacingAndGlyphs" font-style="italic">76'</text>
<text x="381.4" y="648.6" font-size="17.4" font-weight="bold" textLength="15.6" lengthAdjust="spacingAndGlyphs" font-style="italic">92'</text>
</svg>
</body></html>
